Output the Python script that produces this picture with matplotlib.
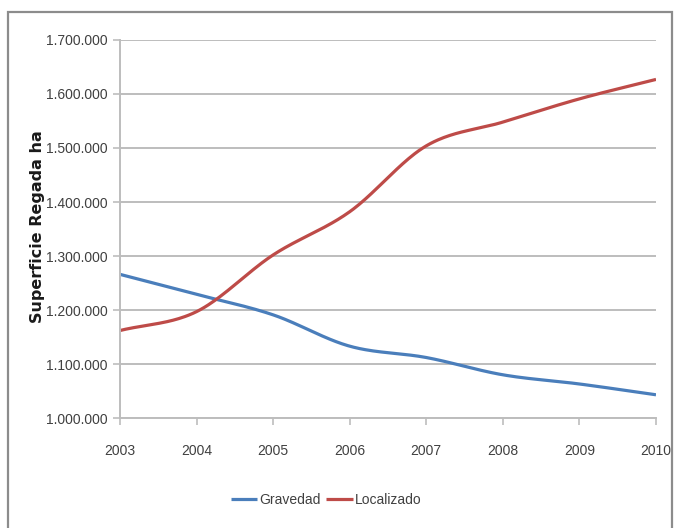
import numpy as np
import matplotlib
matplotlib.use("Agg")
import matplotlib.pyplot as plt
from matplotlib.patches import Rectangle
from matplotlib.ticker import FuncFormatter

years = [2003, 2004, 2005, 2006, 2007, 2008, 2009, 2010]
gravedad = [1266000, 1229000, 1191000, 1133000, 1112000, 1080000, 1063000, 1043000]
localizado = [1162000, 1197000, 1302000, 1382000, 1504000, 1548000, 1591000, 1627000]
series_names = ["Gravedad", "Localizado"]
y_ticks = [1000000, 1100000, 1200000, 1300000, 1400000, 1500000, 1600000, 1700000]
y_label = "Superficie Regada ha"

tick_font = "Liberation Sans"


def smooth(x, y, n=40):
    """Catmull-Rom style smoothing for drawing (like Excel smoothed lines)."""
    x = np.asarray(x, float)
    y = np.asarray(y, float)
    px = np.concatenate([[2 * x[0] - x[1]], x, [2 * x[-1] - x[-2]]])
    py = np.concatenate([[2 * y[0] - y[1]], y, [2 * y[-1] - y[-2]]])
    xs, ys = [], []
    t = np.linspace(0, 1, n)
    for i in range(1, len(px) - 2):
        p0, p1, p2, p3 = (np.array([px[j], py[j]]) for j in range(i - 1, i + 3))
        c1 = p1 + (p2 - p0) / 6
        c2 = p2 - (p3 - p1) / 6
        b = ((1 - t) ** 3)[:, None] * p1 + (3 * (1 - t) ** 2 * t)[:, None] * c1 \
            + (3 * (1 - t) * t ** 2)[:, None] * c2 + (t ** 3)[:, None] * p2
        xs.append(b[:, 0])
        ys.append(b[:, 1])
    return np.concatenate(xs), np.concatenate(ys)


fig = plt.figure(figsize=(6.79, 5.28), dpi=100)
fig.patch.set_facecolor("white")

# outer frame
fig.patches.append(Rectangle((8 / 679, -0.02), 664 / 679, 1 - 12 / 528 + 0.02,
                             transform=fig.transFigure, fill=False,
                             edgecolor="#8c8c8c", linewidth=1.6))

ax = fig.add_axes([120 / 679, 1 - 418 / 528, 536 / 679, 378 / 528])
blue = "#4a7ebb"
red = "#be4b48"

sx, sy = smooth(years, gravedad)
ax.plot(sx, sy, color=blue, linewidth=2.3, label=series_names[0], solid_capstyle="butt")
sx, sy = smooth(years, localizado)
ax.plot(sx, sy, color=red, linewidth=2.3, label=series_names[1], solid_capstyle="butt")

ax.set_xlim(years[0], years[-1])
ax.set_ylim(y_ticks[0], y_ticks[-1])
ax.set_xticks(years)
ax.set_yticks(y_ticks)
ax.yaxis.set_major_formatter(FuncFormatter(lambda v, p: f"{int(v):,}".replace(",", ".")))
ax.grid(axis="y", color="#bdbdbd", linewidth=1.4)
ax.set_axisbelow(True)
for s in ["top", "right"]:
    ax.spines[s].set_visible(False)
for s in ["left", "bottom"]:
    ax.spines[s].set_color("#bdbdbd")
    ax.spines[s].set_linewidth(1.4)
ax.tick_params(axis="both", colors="#bdbdbd", width=1.2, length=5, direction="out")
ax.tick_params(axis="x", pad=14)
ax.tick_params(axis="y", pad=4)
for lbl in ax.get_xticklabels() + ax.get_yticklabels():
    lbl.set_fontfamily(tick_font)
    lbl.set_fontsize(10)
    lbl.set_color("#404040")

fig.text(37.5 / 679, 1 - 227 / 528, y_label, rotation=90, ha="center", va="center",
         fontsize=11.5, fontweight="bold", color="#1a1a1a", family="DejaVu Sans")

leg = fig.legend(loc="center", bbox_to_anchor=(326 / 679, 1 - 500 / 528), ncol=2,
                 frameon=False, handlelength=1.9, handletextpad=0.15, columnspacing=0.4,
                 prop={"family": tick_font, "size": 10})
for t in leg.get_texts():
    t.set_color("#404040")

fig.savefig("out.png", dpi=100)
